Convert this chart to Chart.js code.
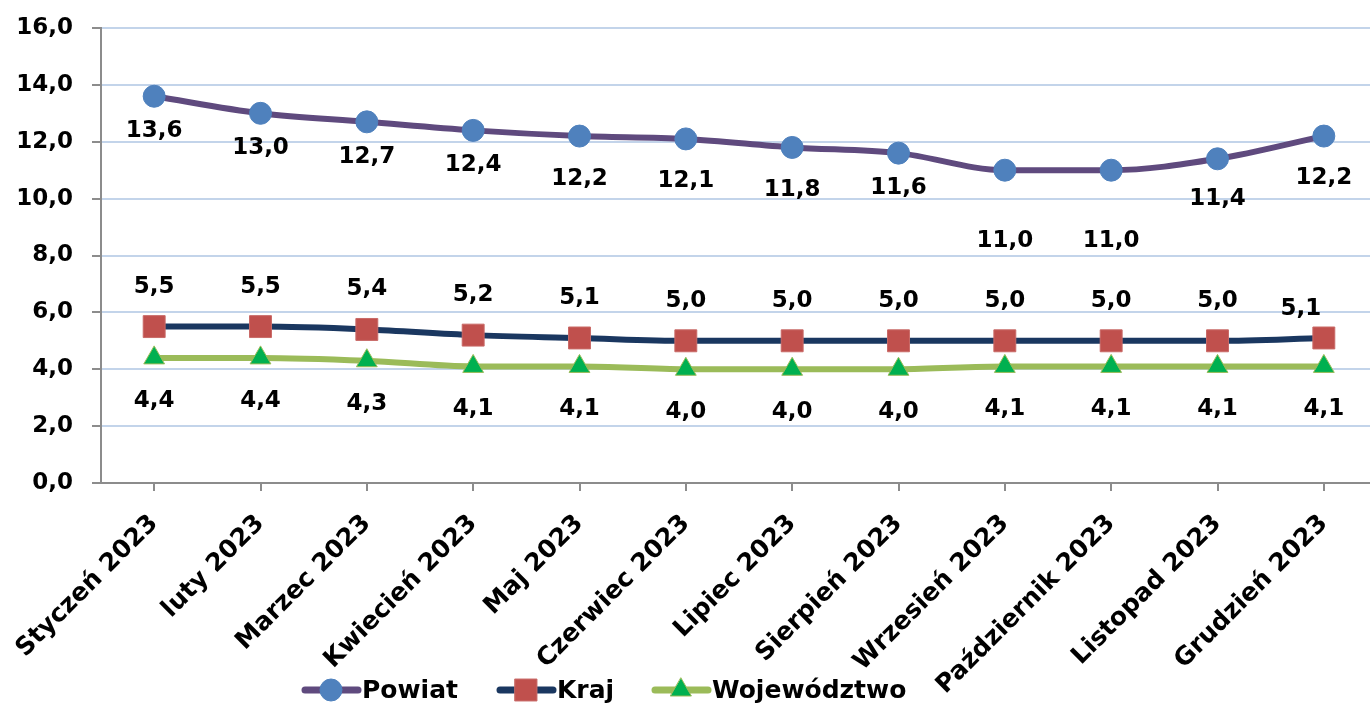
<!DOCTYPE html>
<html>
<head>
<meta charset="utf-8">
<script src="https://cdn.jsdelivr.net/npm/chart.js@4.4.0/dist/chart.umd.min.js"></script>
<style>
  html, body { margin: 0; padding: 0; background: #fff; overflow: hidden; }
</style>
</head>
<body>
<canvas id="wykres" width="1377" height="711"></canvas>
<script>
// miesiace na osi X
const miesiace = ['Styczeń 2023', 'luty 2023', 'Marzec 2023', 'Kwiecień 2023', 'Maj 2023', 'Czerwiec 2023',
  'Lipiec 2023', 'Sierpień 2023', 'Wrzesień 2023', 'Październik 2023', 'Listopad 2023', 'Grudzień 2023']

// stopa bezrobocia (%)
const powiat = [13.6, 13.0, 12.7, 12.4, 12.2, 12.1, 11.8, 11.6, 11.0, 11.0, 11.4, 12.2]
const kraj = [5.5, 5.5, 5.4, 5.2, 5.1, 5.0, 5.0, 5.0, 5.0, 5.0, 5.0, 5.1]
const wojewodztwo = [4.4, 4.4, 4.3, 4.1, 4.1, 4.0, 4.0, 4.0, 4.1, 4.1, 4.1, 4.1]

const osY = [0, 2, 4, 6, 8, 10, 12, 14, 16]

const FONT = "'DejaVu Sans', sans-serif"
const fmt = v => v.toFixed(1).replace('.', ',')

// przesuniecia etykiet danych (px) - jak w oryginale z Excela
const etykiety = [
  { dx: 0, dy: 35, wyj: { 8: [0, 71], 9: [0, 71], 4: [0, 43], 5: [0, 42], 6: [0, 43], 10: [0, 40], 11: [0, 42] } },
  { dx: 0, dy: -40, wyj: { 11: [-23, -29] } },
  { dx: 0, dy: 43, wyj: {} }
]

const daneEtykiety = {
  id: 'daneEtykiety',
  afterDatasetsDraw(chart) {
    const ctx = chart.ctx
    ctx.save()
    ctx.font = 'bold 23px ' + FONT
    ctx.fillStyle = '#000'
    ctx.textAlign = 'center'
    ctx.textBaseline = 'middle'
    chart.data.datasets.forEach((ds, i) => {
      const meta = chart.getDatasetMeta(i)
      const cfg = etykiety[i]
      meta.data.forEach((pt, j) => {
        let off = cfg.wyj[j] || [cfg.dx, cfg.dy]
        ctx.fillText(fmt(ds.data[j]), pt.x + off[0], pt.y + off[1])
      })
    })
    ctx.restore()
  }
}

// legenda: linia + znacznik + nazwa
const legenda = {
  id: 'legenda',
  afterDraw(chart) {
    const ctx = chart.ctx
    const pozycje = [302, 497, 652]
    const y = 690
    ctx.save()
    chart.data.datasets.forEach((ds, i) => {
      const x = pozycje[i]
      ctx.strokeStyle = ds.borderColor
      ctx.lineWidth = 7
      ctx.lineCap = 'round'
      ctx.beginPath()
      ctx.moveTo(x + 3, y)
      ctx.lineTo(x + 56, y)
      ctx.stroke()
      ctx.fillStyle = ds.pointBackgroundColor
      ctx.strokeStyle = ds.pointBorderColor
      ctx.lineWidth = ds.pointBorderWidth
      ctx.beginPath()
      drawMarker(ctx, ds.pointStyle, ds.pointRadius, x + 29, y)
      ctx.fill()
      ctx.stroke()
      ctx.fillStyle = '#000'
      ctx.font = 'bold 25px ' + FONT
      ctx.textBaseline = 'middle'
      ctx.textAlign = 'left'
      ctx.fillText(ds.label, x + 60, y + 1)
    })
    ctx.restore()
  }
}

function drawMarker(ctx, style, r, x, y) {
  if (style === 'circle') {
    ctx.arc(x, y, r, 0, Math.PI * 2)
  } else if (style === 'rect') {
    const s = Math.SQRT1_2 * r
    ctx.rect(x - s, y - s, 2 * s, 2 * s)
  } else {
    ctx.moveTo(x, y - r)
    ctx.lineTo(x + r * 0.866, y + r / 2)
    ctx.lineTo(x - r * 0.866, y + r / 2)
    ctx.closePath()
  }
}

const ctx = document.getElementById('wykres').getContext('2d')
new Chart(ctx, {
  type: 'line',
  data: {
    labels: miesiace,
    datasets: [{
      label: 'Powiat',
      data: powiat,
      borderColor: '#5f4a7e',
      borderWidth: 6,
      cubicInterpolationMode: 'monotone',
      pointStyle: 'circle',
      pointRadius: 11,
      pointBackgroundColor: '#4f81bd',
      pointBorderColor: '#4f81bd',
      pointBorderWidth: 1
    }, {
      label: 'Kraj',
      data: kraj,
      borderColor: '#1a3760',
      borderWidth: 6,
      cubicInterpolationMode: 'monotone',
      pointStyle: 'rect',
      pointRadius: 15.5,
      pointBackgroundColor: '#c0504d',
      pointBorderColor: '#c96a67',
      pointBorderWidth: 1
    }, {
      label: 'Województwo',
      data: wojewodztwo,
      borderColor: '#9bbb59',
      borderWidth: 6,
      cubicInterpolationMode: 'monotone',
      pointStyle: 'triangle',
      pointRadius: 12,
      pointBackgroundColor: '#00b050',
      pointBorderColor: '#9bbb59',
      pointBorderWidth: 1
    }]
  },
  options: {
    responsive: false,
    animation: false,
    devicePixelRatio: 1,
    layout: { autoPadding: false, padding: { top: 28, right: 0, bottom: 0, left: 0 } },
    plugins: {
      legend: { display: false },
      tooltip: { enabled: false }
    },
    scales: {
      x: {
        offset: true,
        grid: { display: true, drawOnChartArea: false, tickLength: 8, color: '#8c8c8c', lineWidth: 2 },
        border: { color: '#8c8c8c', width: 2 },
        ticks: {
          color: '#000', minRotation: 45, maxRotation: 45, autoSkip: false, padding: 18,
          font: { family: FONT, size: 25, weight: 'bold' }
        },
        afterFit(axis) {
          axis.height = 228
          axis.paddingLeft = 0
          axis.paddingRight = 0
        }
      },
      y: {
        min: 0, max: 16,
        afterBuildTicks(axis) { axis.ticks = osY.map(v => ({ value: v })) },
        grid: { color: '#c3d4ea', lineWidth: 2, tickLength: 9, tickColor: '#8c8c8c' },
        border: { color: '#8c8c8c', width: 2 },
        ticks: {
          color: '#000', padding: 19,
          font: { family: FONT, size: 23, weight: 'bold' },
          callback: v => fmt(v)
        },
        afterFit(axis) {
          axis.width = 101
          axis.paddingTop = 0
          axis.paddingBottom = 0
        }
      }
    }
  },
  plugins: [daneEtykiety, legenda]
})
</script>
</body>
</html>
